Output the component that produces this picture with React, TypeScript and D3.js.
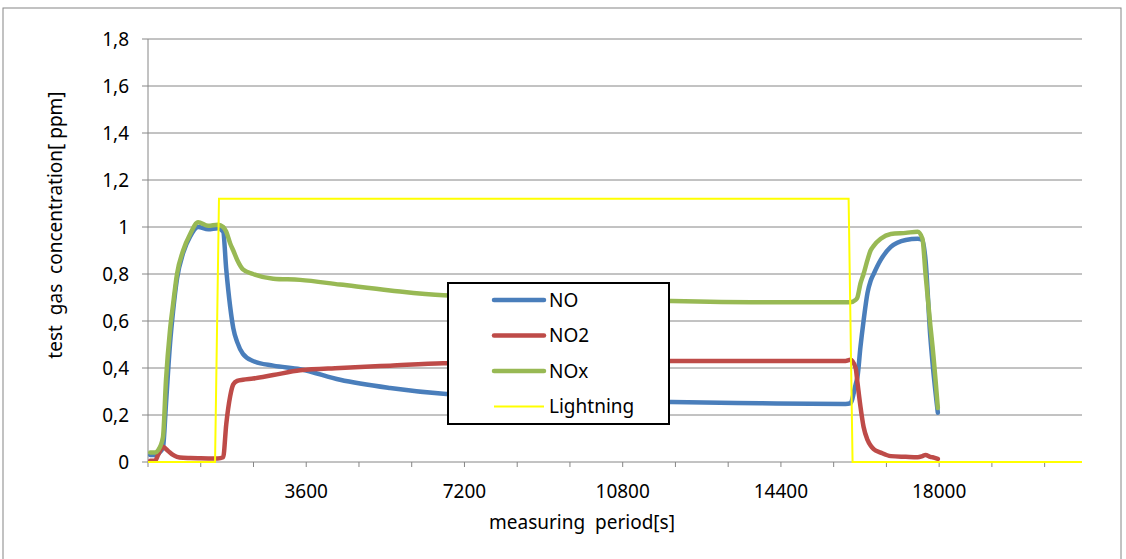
import React from "react";
import * as d3 from "d3";

// sample times [s]
const time = [
  50, 160, 230, 340, 410, 500, 570, 660, 800, 960, 1140, 1370, 1590, 1710, 1780, 1870, 1940, 2030, 2160, 2390,
  2850, 3460, 4370, 5510, 6720, 9380, 11910, 13930, 15870, 15980, 16100, 16140, 16210, 16280, 16370, 16440,
  16510, 16670, 16900, 17240, 17510, 17620, 17690, 17800, 17850, 17970,
];

const no = [
  0.03, 0.03, 0.035, 0.06, 0.25, 0.5, 0.64, 0.78, 0.89, 0.96, 1.0, 0.99, 0.995, 0.98, 0.82, 0.66, 0.57, 0.51,
  0.46, 0.43, 0.41, 0.395, 0.35, 0.315, 0.29, 0.27, 0.255, 0.25, 0.247, 0.25, 0.33, 0.36, 0.49, 0.6, 0.72, 0.77,
  0.8, 0.86, 0.915, 0.945, 0.95, 0.945, 0.86, 0.53, 0.42, 0.21,
];

const no2 = [
  0.005, 0.005, 0.03, 0.065, 0.055, 0.04, 0.03, 0.022, 0.018, 0.017, 0.016, 0.015, 0.015, 0.02, 0.16, 0.28,
  0.33, 0.345, 0.35, 0.355, 0.37, 0.39, 0.4, 0.41, 0.42, 0.425, 0.43, 0.43, 0.43, 0.435, 0.4, 0.34, 0.235, 0.15,
  0.094, 0.07, 0.055, 0.04, 0.025, 0.022, 0.02, 0.025, 0.03, 0.022, 0.02, 0.013,
];

const nox = [
  0.04, 0.04, 0.05, 0.105, 0.35, 0.56, 0.67, 0.8, 0.9, 0.97, 1.02, 1.005, 1.01, 1.0, 0.98, 0.93, 0.9, 0.86, 0.82,
  0.8, 0.78, 0.775, 0.755, 0.73, 0.71, 0.7, 0.685, 0.68, 0.68, 0.68, 0.69, 0.7, 0.76, 0.8, 0.86, 0.9, 0.92, 0.95,
  0.97, 0.975, 0.98, 0.95, 0.8, 0.58, 0.49, 0.23,
];

const lightTime = [0, 1525, 1615, 15940, 16030, 21250];
const lightVal = [0, 0, 1.12, 1.12, 0, 0];

const yTicks = [0, 0.2, 0.4, 0.6, 0.8, 1, 1.2, 1.4, 1.6, 1.8];
const xTickLabels = [3600, 7200, 10800, 14400, 18000];

const seriesNames = ["NO", "NO2", "NOx", "Lightning"];
const seriesColors = ["#4A7EBB", "#BE4B48", "#98B954", "#FFFF00"];

const W = 1126;
const H = 559;
const FONT = "'Noto Sans', sans-serif";
const FS = 19;

export default function App() {
  const x = d3.scaleLinear().domain([0, 21250]).range([148, 1082]);
  const y = d3.scaleLinear().domain([0, 1.8]).range([462, 39]);
  const xMinor = d3.range(0, 21250, 1200);

  const smooth = d3
    .line<[number, number]>()
    .x((d) => x(d[0]))
    .y((d) => y(d[1]))
    .curve(d3.curveMonotoneX);
  const straight = d3
    .line<[number, number]>()
    .x((d) => x(d[0]))
    .y((d) => y(d[1]));

  const gas = [no, no2, nox].map((vals) => time.map((t, i) => [t, vals[i]] as [number, number]));
  const light = lightTime.map((t, i) => [t, lightVal[i]] as [number, number]);

  const legend = { x: 448, y: 283, w: 221, h: 141 };

  return (
    <svg width={W} height={H} style={{ position: "absolute", left: 0, top: 0 }} fontFamily={FONT}>
      <rect x={0} y={0} width={W} height={H} fill="#fff" />
      <rect x={3} y={8} width={1118} height={560} fill="#fff" stroke="#868686" strokeWidth={1} />

      {/* grid */}
      {yTicks.map((v) => (
        <g key={v}>
          {v > 0 && <line x1={148} x2={1082} y1={y(v)} y2={y(v)} stroke="#868686" strokeWidth={1} />}
          <line x1={142} x2={148} y1={y(v)} y2={y(v)} stroke="#868686" />
          <text x={129} y={y(v)} dy="0.35em" textAnchor="end" fontSize={FS} fill="#000">
            {String(v).replace(".", ",")}
          </text>
        </g>
      ))}
      <line x1={148} x2={148} y1={y(1.8)} y2={y(0)} stroke="#868686" />
      <line x1={148} x2={1082} y1={y(0)} y2={y(0)} stroke="#868686" />
      {xMinor.map((t) => (
        <line key={t} x1={x(t)} x2={x(t)} y1={462} y2={467} stroke="#868686" />
      ))}
      {xTickLabels.map((t) => (
        <text key={t} x={x(t)} y={491} dy="0.35em" textAnchor="middle" fontSize={FS} fill="#000">
          {t}
        </text>
      ))}

      <text x={582} y={522} dy="0.35em" textAnchor="middle" fontSize={FS} fill="#000" style={{ whiteSpace: "pre" }}>
        {"measuring  period[s]"}
      </text>
      <text
        transform="translate(55,225) rotate(-90)"
        textAnchor="middle"
        dy="0.35em"
        fontSize={FS}
        fill="#000"
        style={{ whiteSpace: "pre" }}
      >
        {"test  gas  concentration[ ppm]"}
      </text>

      {/* series */}
      {gas.map((pts, i) => (
        <path
          key={i}
          d={smooth(pts) || ""}
          fill="none"
          stroke={seriesColors[i]}
          strokeWidth={4.5}
          strokeLinejoin="round"
          strokeLinecap="round"
        />
      ))}
      <path d={straight(light) || ""} fill="none" stroke={seriesColors[3]} strokeWidth={2} />

      {/* legend */}
      <rect x={legend.x} y={legend.y} width={legend.w} height={legend.h} fill="#fff" stroke="#000" strokeWidth={2} />
      {seriesNames.map((name, i) => {
        const ly = 300 + i * 35.5;
        return (
          <g key={name}>
            <line
              x1={494}
              x2={544}
              y1={ly}
              y2={ly}
              stroke={seriesColors[i]}
              strokeWidth={i === 3 ? 2 : 4.5}
              strokeLinecap={i === 3 ? "butt" : "round"}
            />
            <text x={549} y={ly} dy="0.35em" fontSize={FS} fill="#000">
              {name}
            </text>
          </g>
        );
      })}
    </svg>
  );
}
